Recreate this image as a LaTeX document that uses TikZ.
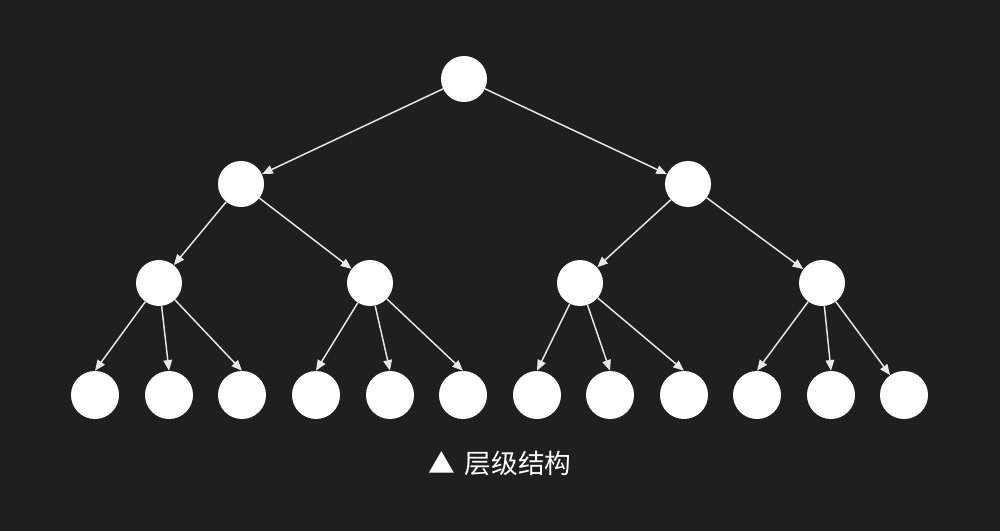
\documentclass[tikz,border=0pt]{standalone}
\usepackage{fontspec}
\newfontfamily\cjk{Noto Sans CJK SC}
\usetikzlibrary{arrows.meta}
\definecolor{bgdark}{HTML}{1F1F1F}
\definecolor{edgegray}{HTML}{E8E8E8}
\begin{document}
\begin{tikzpicture}[x=0.75pt,y=-0.75pt,line join=round,
  >={Triangle[length=8pt,width=6.5pt]},
  dot/.style={circle,fill=white,inner sep=0pt,minimum size=34.5pt},
  leaf/.style={dot,minimum size=36pt},
  link/.style={->,draw=edgegray,line width=1.1pt}]
	\fill[bgdark] (0,0) rectangle (1000,531);
	\useasboundingbox (0,0) rectangle (1000,531);
	% tree
	\node[dot] (r) at (464,79) {};
	\node[dot] (a) at (241,184) {};
	\node[dot] (b) at (688,184) {};
	\node[dot] (a1) at (159,283) {};
	\node[dot] (a2) at (370,283) {};
	\node[dot] (b1) at (580,283) {};
	\node[dot] (b2) at (822,283) {};
	\foreach \i/\x in {1/95,2/169,3/242,4/316,5/390,6/463,7/537,8/610,9/684,10/757,11/831,12/904}
		\node[leaf] (l\i) at (\x,395) {};
	\foreach \p/\c in {r/a,r/b,a/a1,a/a2,b/b1,b/b2}
		\draw[link] (\p)--(\c);
	% leaves are hit near the top
	\foreach \p/\c/\g in {a1/1/90,a1/2/90,a1/3/90,a2/4/90,a2/5/90,a2/6/90,
		b1/7/90,b1/8/90,b1/9/90,b2/10/90,b2/11/90,b2/12/125}
		\draw[link] (\p)--(l\c.\g);
	\node[text=white,font=\cjk\fontsize{20pt}{24pt}\selectfont] (cap) at (500,463) {▲\hspace{7pt}层级结构};
\end{tikzpicture}
\end{document}
